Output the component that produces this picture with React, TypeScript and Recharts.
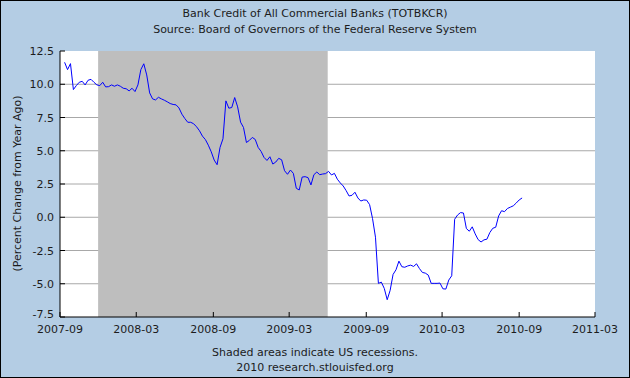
import React from "react";
import { LineChart, Line, XAxis, YAxis, CartesianGrid, ReferenceArea } from "recharts";

// weekly observations (Wednesdays), percent change from year ago
const firstWeek = "2007-09-12";
const bankCredit = [
  11.65, 11.1, 11.55, 9.6, 9.9, 10.15, 10.22, 9.95, 10.3, 10.37,
  10.15, 9.95, 9.9, 10.15, 9.8, 9.82, 9.95, 9.85, 9.95, 9.85,
  9.7, 9.66, 9.5, 9.7, 9.45, 9.95, 11.1, 11.54, 10.7, 9.35,
  8.9, 8.82, 9.02, 8.9, 8.8, 8.68, 8.55, 8.48, 8.45, 8.22,
  7.75, 7.42, 7.14, 7.14, 7.03, 6.8, 6.5, 6.1, 5.84, 5.42,
  4.92, 4.3, 3.95, 5.25, 5.9, 8.75, 8.2, 8.25, 9.0, 8.3,
  7.15, 6.75, 5.62, 5.78, 6.0, 5.85, 5.25, 4.95, 4.5, 4.27,
  4.55, 4.0, 4.15, 4.43, 4.32, 3.5, 3.23, 3.55, 3.3, 2.18,
  2.05, 3.02, 3.05, 2.98, 2.43, 3.2, 3.4, 3.2, 3.25, 3.28,
  3.45, 3.18, 3.3, 2.86, 2.58, 2.35, 2.0, 1.6, 1.65, 1.88,
  1.45, 1.22, 1.3, 1.28, 0.95, -0.1, -1.5, -4.97, -4.88, -5.35,
  -6.2, -5.5, -4.3, -3.95, -3.3, -3.72, -3.76, -3.66, -3.6, -3.7,
  -3.5, -3.86, -4.15, -4.2, -4.35, -4.97, -4.97, -4.97, -4.95, -5.38,
  -5.4, -4.72, -4.4, -0.15, 0.17, 0.35, 0.32, -0.85, -1.05, -0.72,
  -1.25, -1.68, -1.86, -1.7, -1.65, -1.15, -0.83, -0.75, 0.1, 0.49,
  0.42, 0.66, 0.76, 0.86, 1.07, 1.3, 1.45,
];

const xTicks = ["2007-09", "2008-03", "2008-09", "2009-03", "2009-09", "2010-03", "2010-09", "2011-03"];
const yTicks = [-7.5, -5, -2.5, 0, 2.5, 5, 7.5, 10, 12.5];
const gridValues = [-5, -2.5, 0, 2.5, 5, 7.5, 10];
const recession = ["2007-12-01", "2009-06-01"];

const DAY = 86400000;
const toTime = (s: string) => Date.parse(s.length === 7 ? s + "-01" : s);
const start0 = toTime(firstWeek);
const data = bankCredit.map((v, i) => ({ t: start0 + i * 7 * DAY, v }));

const BG = "#b4cde4";
const TXT = "#1c1c1c";
const FONT = "'DejaVu Sans', Verdana, sans-serif";
const PLOT_LEFT = 60;
const PLOT_BOTTOM = 317;

const YTick = (props: any) => {
  const { y, payload } = props;
  // bottom label nudged up so it clears the first date label
  const dy = payload.value === yTicks[0] ? 1 : 4;
  return (
    <g>
      <line x1={PLOT_LEFT} x2={PLOT_LEFT + 5} y1={y} y2={y} stroke="#000" />
      <text x={PLOT_LEFT - 6} y={y + dy} textAnchor="end" fontSize={11} fill={TXT} fontFamily={FONT}>
        {payload.value.toFixed(1)}
      </text>
    </g>
  );
};

const XTick = (props: any) => {
  const { x, payload } = props;
  const d = new Date(payload.value);
  const label = d.getUTCFullYear() + "-" + String(d.getUTCMonth() + 1).padStart(2, "0");
  return (
    <g>
      <line x1={x} x2={x} y1={PLOT_BOTTOM} y2={PLOT_BOTTOM - 5} stroke="#000" />
      <text x={x} y={PLOT_BOTTOM + 16} textAnchor="middle" fontSize={11} fill={TXT} fontFamily={FONT}>
        {label}
      </text>
    </g>
  );
};

const textStyle: React.CSSProperties = {
  position: "absolute",
  left: 0,
  width: 630,
  textAlign: "center",
  fontFamily: FONT,
  fontSize: 11,
  color: TXT,
  lineHeight: "13px",
};

export default function App() {
  return (
    <div style={{ position: "absolute", left: 0, top: 0, width: 630, height: 378, background: BG }}>
      <LineChart width={630} height={378} data={data} margin={{ top: 51, right: 35, bottom: 31, left: 0 }}>
        <CartesianGrid horizontal vertical={false} horizontalValues={gridValues} stroke="#a8a8a8" fill="#fff" />
        <ReferenceArea
          x1={toTime(recession[0])}
          x2={toTime(recession[1])}
          fill="#bebebe"
          fillOpacity={1}
          stroke="none"
        />
        <XAxis
          dataKey="t"
          type="number"
          domain={[toTime(xTicks[0]), toTime(xTicks[xTicks.length - 1])]}
          ticks={xTicks.map(toTime)}
          interval={0}
          height={30}
          tickLine={false}
          axisLine={{ stroke: "#000" }}
          tick={<XTick />}
          allowDataOverflow
        />
        <YAxis
          type="number"
          domain={[-7.5, 12.5]}
          ticks={yTicks}
          width={60}
          tickLine={false}
          axisLine={{ stroke: "#000" }}
          tick={<YTick />}
          interval={0}
        />
        <Line type="linear" dataKey="v" stroke="#0000ff" strokeWidth={1} dot={false} isAnimationActive={false} />
      </LineChart>
      <div style={{ ...textStyle, top: 7 }}>Bank Credit of All Commercial Banks (TOTBKCR)</div>
      <div style={{ ...textStyle, top: 23 }}>Source: Board of Governors of the Federal Reserve System</div>
      <div style={{ ...textStyle, top: 346 }}>Shaded areas indicate US recessions.</div>
      <div style={{ ...textStyle, top: 361 }}>2010 research.stlouisfed.org</div>
      <div
        style={{
          position: "absolute",
          left: 17 - 100,
          top: 184 - 7,
          width: 200,
          textAlign: "center",
          transform: "rotate(-90deg)",
          fontFamily: FONT,
          fontSize: 11,
          color: TXT,
          lineHeight: "13px",
        }}
      >
        (Percent Change from Year Ago)
      </div>
      <div
        style={{
          position: "absolute",
          left: 0,
          top: 0,
          width: 630,
          height: 378,
          boxSizing: "border-box",
          border: "1px solid #000",
          pointerEvents: "none",
        }}
      />
    </div>
  );
}
